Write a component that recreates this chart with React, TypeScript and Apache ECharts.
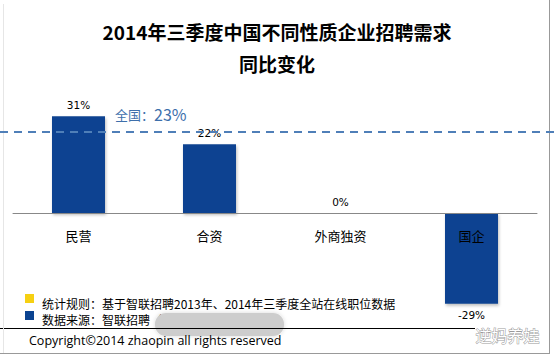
import React, { useEffect, useRef } from "react";
import * as echarts from "echarts";

const titleLines = ["2014年三季度中国不同性质企业招聘需求", "同比变化"];
const categories = ["民营", "合资", "外商独资", "国企"];
const changeValues = [31, 22, 0, -29];
const nationalAvg = 23;
const nationalLineLevel = 26; // where the dashed reference line sits in the picture
const noteRule = "统计规则：基于智联招聘2013年、2014年三季度全站在线职位数据";
const noteSource = "数据来源：智联招聘（";
const copyright = "Copyright©2014 zhaopin all rights reserved";
const watermark = "逆妈养娃";

const CJK = '"Noto Sans CJK SC", "Noto Sans", sans-serif';
const BAR = "#0b4391";

export default function App() {
  const ref = useRef<HTMLDivElement>(null);
  useEffect(() => {
    document.body.style.margin = "0";
    const chart = echarts.init(ref.current!, null, { renderer: "svg" });
    chart.setOption({
      animation: false,
      backgroundColor: "#ffffff",
      title: {
        text: titleLines.join("\n"),
        left: "center",
        top: 10,
        textStyle: {
          fontFamily: CJK,
          fontSize: 19,
          fontWeight: "bold",
          color: "#000",
          lineHeight: 32,
        },
      },
      grid: { left: 13, right: 17, top: 88, bottom: 18, outerBoundsMode: "none" },
      xAxis: {
        type: "category",
        data: categories,
        z: 10,
        axisLine: { onZero: true, lineStyle: { color: "#888", width: 1 } },
        axisTick: { show: false },
        axisLabel: {
          margin: -109,
          fontFamily: CJK,
          fontSize: 13,
          color: "#000",
        },
      },
      yAxis: {
        type: "value",
        min: -40,
        max: 40,
        show: false,
        splitLine: { show: false },
      },
      series: [
        {
          type: "bar",
          barWidth: 53,
          data: changeValues.map((v) => ({
            value: v,
            label: { position: v < 0 ? "bottom" : "top" },
          })),
          itemStyle: {
            color: BAR,
            shadowColor: "rgba(0,0,0,0.25)",
            shadowBlur: 3,
            shadowOffsetX: 1,
            shadowOffsetY: 2,
          },
          label: {
            show: true,
            distance: 6,
            formatter: "{c}%",
            fontFamily: '"DejaVu Sans", sans-serif',
            fontSize: 10.5,
            color: "#000",
          },
          markLine: {
            silent: true,
            symbol: "none",
            label: { show: false },
            lineStyle: { color: "#4f7fb8", width: 2, type: [8, 6] },
            data: [
              [
                { yAxis: nationalLineLevel, x: 0 },
                { yAxis: nationalLineLevel, x: 554 },
              ],
            ],
          },
        },
      ],
      graphic: [
        {
          type: "text",
          left: 115,
          top: 106,
          z: 20,
          style: {
            text: "{a|全国：}{b|" + nationalAvg + "%}",
            rich: {
              a: { fontFamily: CJK, fontSize: 13, fill: "#3e6fab" },
              b: { fontFamily: CJK, fontSize: 16, fill: "#3e6fab" },
            },
          },
        },
        { type: "rect", shape: { x: 25, y: 294, width: 9, height: 9 }, style: { fill: "#f6d012" } },
        { type: "rect", shape: { x: 25, y: 311, width: 9, height: 9 }, style: { fill: BAR } },
        {
          type: "text",
          left: 42,
          top: 297,
          style: { text: noteRule, fontFamily: CJK, fontSize: 12, fill: "#000" },
        },
        {
          type: "text",
          left: 42,
          top: 313,
          style: { text: noteSource, fontFamily: CJK, fontSize: 12, fill: "#000" },
        },
        {
          type: "rect",
          shape: { x: 155, y: 313, width: 129, height: 23, r: 11 },
          style: { fill: "#cdcdcd", shadowBlur: 4, shadowColor: "rgba(0,0,0,0.15)" },
        },
        {
          type: "line",
          shape: { x1: 0, y1: 328.5, x2: 475, y2: 328.5 },
          style: { stroke: "#000", lineWidth: 1 },
        },
        {
          type: "text",
          left: 29,
          top: 334,
          style: { text: copyright, fontFamily: '"Open Sans", sans-serif', fontSize: 12.5, fill: "#000" },
        },
        {
          type: "text",
          left: 475,
          top: 326,
          style: {
            text: watermark,
            fontFamily: CJK,
            fontSize: 16,
            fill: "#ffffff",
            stroke: "#9a9a9a",
            lineWidth: 1,
          },
        },
        {
          type: "line",
          shape: { x1: 549.5, y1: 0, x2: 549.5, y2: 354 },
          style: { stroke: "#999", lineWidth: 1 },
        },
        {
          type: "line",
          shape: { x1: 0, y1: 353.5, x2: 550, y2: 353.5 },
          style: { stroke: "#999", lineWidth: 1 },
        },
        {
          type: "line",
          shape: { x1: 3.5, y1: 4, x2: 3.5, y2: 353 },
          style: { stroke: "#e6e6e6", lineWidth: 1 },
        },
      ],
    });
    return () => chart.dispose();
  }, []);
  return <div ref={ref} style={{ width: 554, height: 356 }} />;
}
